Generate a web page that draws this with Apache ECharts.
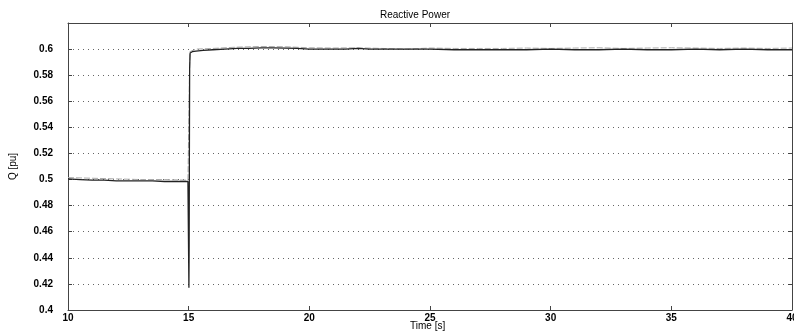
<!DOCTYPE html>
<html><head><meta charset="utf-8">
<script src="https://cdn.jsdelivr.net/npm/echarts@6/dist/echarts.min.js"></script>
<style>html,body{margin:0;padding:0;background:#fff}#c{width:794px;height:335px}</style>
</head><body><div id="c"></div>
<script>
const title = 'Reactive Power';
const xName = 'Time [s]';
const yName = 'Q [pu]';
const yTicks = [0.4,0.42,0.44,0.46,0.48,0.5,0.52,0.54,0.56,0.58,0.6];
// main trace
const tMain = [10,10.5,11,11.5,12,12.5,13,13.5,14,14.5,14.97,15.0,15.01,15.02,15.03,15.04,15.06,15.15,15.3,15.6,16,16.5,17,17.5,18,18.5,19,19.5,20,20.5,21,21.5,22,22.5,23,24,25,26,27,28,29,30,31,32,33,34,35,36,37,38,39,40];
const qMain = [0.5005,0.5,0.4995,0.4995,0.499,0.499,0.499,0.499,0.4985,0.4985,0.4985,0.5,0.417,0.45,0.52,0.585,0.597,0.598,0.5985,0.599,0.5995,0.6,0.6005,0.6005,0.601,0.601,0.6008,0.6005,0.6,0.6,0.6,0.6,0.6005,0.6,0.6,0.6,0.6,0.5995,0.5995,0.5995,0.5995,0.6,0.5995,0.5995,0.6,0.5995,0.5995,0.6,0.5995,0.6,0.5995,0.5995];
// lighter ghost trace
const tGhost = [10,11,12,13,14,14.97,15.05,15.3,16,17,18,19,20,21,22,23,24,25,26,27,28,29,30,31,32,33,34,35,36,37,38,39,40];
const qGhost = [0.5015,0.501,0.5005,0.5,0.5,0.4995,0.598,0.6,0.6005,0.6015,0.602,0.6018,0.601,0.6008,0.601,0.6005,0.6,0.6008,0.6005,0.6005,0.6005,0.6008,0.6005,0.6008,0.601,0.6005,0.6008,0.601,0.6008,0.6005,0.6008,0.6005,0.6008];

const chart = echarts.init(document.getElementById('c'));
const gridLine = {show:true,lineStyle:{color:'#666',type:[1,4],width:1}};
const axLine = {show:true,lineStyle:{color:'#444',width:1}};
const font = 'Liberation Sans, Arial, sans-serif';
chart.setOption({
  animation:false,
  backgroundColor:'#fff',
  title:[{text:title,left:375,top:5,textStyle:{fontSize:10,fontWeight:'normal',color:'#000',fontFamily:font}},
         {text:xName,left:410,top:321,padding:0,textStyle:{fontSize:10,fontWeight:'normal',color:'#000',fontFamily:font}}],
  grid:{left:68,right:2,top:23,bottom:25,containLabel:false,outerBoundsMode:'none'},
  xAxis:[{type:'value',min:10,max:40,interval:5,position:'bottom',
    axisLine:axLine,axisTick:{show:true,inside:true,length:4,lineStyle:{color:'#444'}},
    axisLabel:{fontSize:10,color:'#000',fontWeight:'bold',fontFamily:font,margin:3},splitLine:{show:false}},
    {type:'value',min:10,max:40,interval:5,position:'top',axisLine:axLine,
    axisTick:{show:true,inside:true,length:4,lineStyle:{color:'#444'}},axisLabel:{show:false},splitLine:{show:false}}],
  yAxis:[{type:'value',min:0.4,max:0.62,interval:0.02,
    name:yName,nameLocation:'middle',nameGap:50,nameRotate:90,nameTextStyle:{fontSize:10,color:'#000',fontFamily:font},
    axisLine:axLine,axisTick:{show:true,inside:true,length:4,lineStyle:{color:'#444'}},
    axisLabel:{fontSize:10,color:'#000',fontWeight:'bold',fontFamily:font,margin:15,
      formatter:v=>{const r=Math.round(v*100)/100; return (yTicks.some(t=>Math.abs(t-r)<1e-9))?String(r):'';}},
    splitLine:gridLine},
    {type:'value',min:0.4,max:0.62,interval:0.02,position:'right',axisLine:axLine,
    axisTick:{show:true,inside:true,length:4,lineStyle:{color:'#444'}},axisLabel:{show:false},splitLine:{show:false}}],
  series:[
    {type:'line',data:tGhost.map((t,i)=>[t,qGhost[i]]),showSymbol:false,lineStyle:{color:'#aaa',width:1,type:[6,2]},z:2},
    {type:'line',data:tMain.map((t,i)=>[t,qMain[i]]),showSymbol:false,lineStyle:{color:'#222',width:1.3},z:3}
  ]
});
</script></body></html>
